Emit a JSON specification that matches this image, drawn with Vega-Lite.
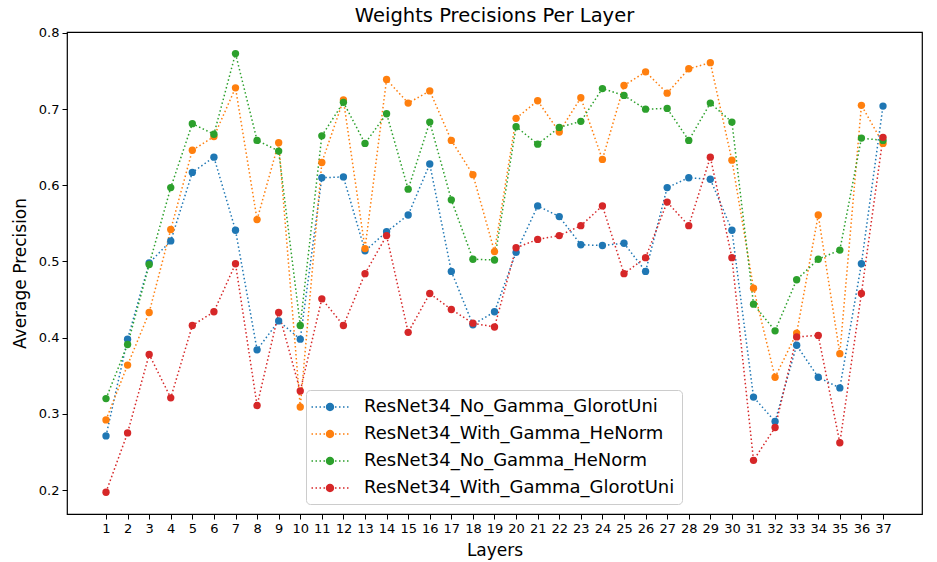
{
  "$schema": "https://vega.github.io/schema/vega-lite/v6.json",
  "width": 855,
  "height": 482,
  "autosize": {"type": "none"},
  "padding": {"left": 67, "top": 32, "right": 15, "bottom": 48},
  "background": "white",
  "config": {
    "font": "DejaVu Sans",
    "view": {"stroke": "black", "strokeWidth": 1.2},
    "axis": {"grid": false, "domain": false, "tickColor": "black", "tickSize": 5, "labelColor": "black", "labelFontSize": 13, "labelFont": "DejaVu Sans", "titleFont": "DejaVu Sans", "titleFontWeight": "normal", "titleFontSize": 17, "titleColor": "black", "labelPadding": 3}
  },
  "title": {"text": "Weights Precisions Per Layer", "fontSize": 19.5, "fontWeight": "normal", "font": "DejaVu Sans", "offset": 0, "color": "black"},
  "data": {"values": [
    {"m":"ResNet34_No_Gamma_GlorotUni","layer":1,"v":0.271},{"m":"ResNet34_No_Gamma_GlorotUni","layer":2,"v":0.398},{"m":"ResNet34_No_Gamma_GlorotUni","layer":3,"v":0.498},{"m":"ResNet34_No_Gamma_GlorotUni","layer":4,"v":0.527},{"m":"ResNet34_No_Gamma_GlorotUni","layer":5,"v":0.617},{"m":"ResNet34_No_Gamma_GlorotUni","layer":6,"v":0.637},{"m":"ResNet34_No_Gamma_GlorotUni","layer":7,"v":0.541},{"m":"ResNet34_No_Gamma_GlorotUni","layer":8,"v":0.384},{"m":"ResNet34_No_Gamma_GlorotUni","layer":9,"v":0.422},{"m":"ResNet34_No_Gamma_GlorotUni","layer":10,"v":0.398},{"m":"ResNet34_No_Gamma_GlorotUni","layer":11,"v":0.610},{"m":"ResNet34_No_Gamma_GlorotUni","layer":12,"v":0.611},{"m":"ResNet34_No_Gamma_GlorotUni","layer":13,"v":0.514},{"m":"ResNet34_No_Gamma_GlorotUni","layer":14,"v":0.539},{"m":"ResNet34_No_Gamma_GlorotUni","layer":15,"v":0.561},{"m":"ResNet34_No_Gamma_GlorotUni","layer":16,"v":0.628},{"m":"ResNet34_No_Gamma_GlorotUni","layer":17,"v":0.487},{"m":"ResNet34_No_Gamma_GlorotUni","layer":18,"v":0.417},{"m":"ResNet34_No_Gamma_GlorotUni","layer":19,"v":0.434},{"m":"ResNet34_No_Gamma_GlorotUni","layer":20,"v":0.512},{"m":"ResNet34_No_Gamma_GlorotUni","layer":21,"v":0.573},{"m":"ResNet34_No_Gamma_GlorotUni","layer":22,"v":0.559},{"m":"ResNet34_No_Gamma_GlorotUni","layer":23,"v":0.522},{"m":"ResNet34_No_Gamma_GlorotUni","layer":24,"v":0.521},{"m":"ResNet34_No_Gamma_GlorotUni","layer":25,"v":0.524},{"m":"ResNet34_No_Gamma_GlorotUni","layer":26,"v":0.487},{"m":"ResNet34_No_Gamma_GlorotUni","layer":27,"v":0.597},{"m":"ResNet34_No_Gamma_GlorotUni","layer":28,"v":0.610},{"m":"ResNet34_No_Gamma_GlorotUni","layer":29,"v":0.608},{"m":"ResNet34_No_Gamma_GlorotUni","layer":30,"v":0.541},{"m":"ResNet34_No_Gamma_GlorotUni","layer":31,"v":0.322},{"m":"ResNet34_No_Gamma_GlorotUni","layer":32,"v":0.290},{"m":"ResNet34_No_Gamma_GlorotUni","layer":33,"v":0.390},{"m":"ResNet34_No_Gamma_GlorotUni","layer":34,"v":0.348},{"m":"ResNet34_No_Gamma_GlorotUni","layer":35,"v":0.334},{"m":"ResNet34_No_Gamma_GlorotUni","layer":36,"v":0.497},{"m":"ResNet34_No_Gamma_GlorotUni","layer":37,"v":0.704},
    {"m":"ResNet34_With_Gamma_HeNorm","layer":1,"v":0.292},{"m":"ResNet34_With_Gamma_HeNorm","layer":2,"v":0.364},{"m":"ResNet34_With_Gamma_HeNorm","layer":3,"v":0.433},{"m":"ResNet34_With_Gamma_HeNorm","layer":4,"v":0.542},{"m":"ResNet34_With_Gamma_HeNorm","layer":5,"v":0.646},{"m":"ResNet34_With_Gamma_HeNorm","layer":6,"v":0.664},{"m":"ResNet34_With_Gamma_HeNorm","layer":7,"v":0.728},{"m":"ResNet34_With_Gamma_HeNorm","layer":8,"v":0.555},{"m":"ResNet34_With_Gamma_HeNorm","layer":9,"v":0.656},{"m":"ResNet34_With_Gamma_HeNorm","layer":10,"v":0.309},{"m":"ResNet34_With_Gamma_HeNorm","layer":11,"v":0.630},{"m":"ResNet34_With_Gamma_HeNorm","layer":12,"v":0.712},{"m":"ResNet34_With_Gamma_HeNorm","layer":13,"v":0.517},{"m":"ResNet34_With_Gamma_HeNorm","layer":14,"v":0.739},{"m":"ResNet34_With_Gamma_HeNorm","layer":15,"v":0.708},{"m":"ResNet34_With_Gamma_HeNorm","layer":16,"v":0.724},{"m":"ResNet34_With_Gamma_HeNorm","layer":17,"v":0.659},{"m":"ResNet34_With_Gamma_HeNorm","layer":18,"v":0.614},{"m":"ResNet34_With_Gamma_HeNorm","layer":19,"v":0.513},{"m":"ResNet34_With_Gamma_HeNorm","layer":20,"v":0.688},{"m":"ResNet34_With_Gamma_HeNorm","layer":21,"v":0.711},{"m":"ResNet34_With_Gamma_HeNorm","layer":22,"v":0.670},{"m":"ResNet34_With_Gamma_HeNorm","layer":23,"v":0.715},{"m":"ResNet34_With_Gamma_HeNorm","layer":24,"v":0.634},{"m":"ResNet34_With_Gamma_HeNorm","layer":25,"v":0.731},{"m":"ResNet34_With_Gamma_HeNorm","layer":26,"v":0.749},{"m":"ResNet34_With_Gamma_HeNorm","layer":27,"v":0.721},{"m":"ResNet34_With_Gamma_HeNorm","layer":28,"v":0.753},{"m":"ResNet34_With_Gamma_HeNorm","layer":29,"v":0.761},{"m":"ResNet34_With_Gamma_HeNorm","layer":30,"v":0.633},{"m":"ResNet34_With_Gamma_HeNorm","layer":31,"v":0.465},{"m":"ResNet34_With_Gamma_HeNorm","layer":32,"v":0.348},{"m":"ResNet34_With_Gamma_HeNorm","layer":33,"v":0.406},{"m":"ResNet34_With_Gamma_HeNorm","layer":34,"v":0.561},{"m":"ResNet34_With_Gamma_HeNorm","layer":35,"v":0.379},{"m":"ResNet34_With_Gamma_HeNorm","layer":36,"v":0.705},{"m":"ResNet34_With_Gamma_HeNorm","layer":37,"v":0.655},
    {"m":"ResNet34_No_Gamma_HeNorm","layer":1,"v":0.320},{"m":"ResNet34_No_Gamma_HeNorm","layer":2,"v":0.391},{"m":"ResNet34_No_Gamma_HeNorm","layer":3,"v":0.496},{"m":"ResNet34_No_Gamma_HeNorm","layer":4,"v":0.597},{"m":"ResNet34_No_Gamma_HeNorm","layer":5,"v":0.681},{"m":"ResNet34_No_Gamma_HeNorm","layer":6,"v":0.667},{"m":"ResNet34_No_Gamma_HeNorm","layer":7,"v":0.773},{"m":"ResNet34_No_Gamma_HeNorm","layer":8,"v":0.659},{"m":"ResNet34_No_Gamma_HeNorm","layer":9,"v":0.645},{"m":"ResNet34_No_Gamma_HeNorm","layer":10,"v":0.416},{"m":"ResNet34_No_Gamma_HeNorm","layer":11,"v":0.665},{"m":"ResNet34_No_Gamma_HeNorm","layer":12,"v":0.709},{"m":"ResNet34_No_Gamma_HeNorm","layer":13,"v":0.655},{"m":"ResNet34_No_Gamma_HeNorm","layer":14,"v":0.694},{"m":"ResNet34_No_Gamma_HeNorm","layer":15,"v":0.595},{"m":"ResNet34_No_Gamma_HeNorm","layer":16,"v":0.683},{"m":"ResNet34_No_Gamma_HeNorm","layer":17,"v":0.581},{"m":"ResNet34_No_Gamma_HeNorm","layer":18,"v":0.503},{"m":"ResNet34_No_Gamma_HeNorm","layer":19,"v":0.502},{"m":"ResNet34_No_Gamma_HeNorm","layer":20,"v":0.677},{"m":"ResNet34_No_Gamma_HeNorm","layer":21,"v":0.654},{"m":"ResNet34_No_Gamma_HeNorm","layer":22,"v":0.676},{"m":"ResNet34_No_Gamma_HeNorm","layer":23,"v":0.684},{"m":"ResNet34_No_Gamma_HeNorm","layer":24,"v":0.727},{"m":"ResNet34_No_Gamma_HeNorm","layer":25,"v":0.718},{"m":"ResNet34_No_Gamma_HeNorm","layer":26,"v":0.700},{"m":"ResNet34_No_Gamma_HeNorm","layer":27,"v":0.701},{"m":"ResNet34_No_Gamma_HeNorm","layer":28,"v":0.659},{"m":"ResNet34_No_Gamma_HeNorm","layer":29,"v":0.708},{"m":"ResNet34_No_Gamma_HeNorm","layer":30,"v":0.683},{"m":"ResNet34_No_Gamma_HeNorm","layer":31,"v":0.444},{"m":"ResNet34_No_Gamma_HeNorm","layer":32,"v":0.409},{"m":"ResNet34_No_Gamma_HeNorm","layer":33,"v":0.476},{"m":"ResNet34_No_Gamma_HeNorm","layer":34,"v":0.503},{"m":"ResNet34_No_Gamma_HeNorm","layer":35,"v":0.515},{"m":"ResNet34_No_Gamma_HeNorm","layer":36,"v":0.662},{"m":"ResNet34_No_Gamma_HeNorm","layer":37,"v":0.659},
    {"m":"ResNet34_With_Gamma_GlorotUni","layer":1,"v":0.197},{"m":"ResNet34_With_Gamma_GlorotUni","layer":2,"v":0.275},{"m":"ResNet34_With_Gamma_GlorotUni","layer":3,"v":0.378},{"m":"ResNet34_With_Gamma_GlorotUni","layer":4,"v":0.321},{"m":"ResNet34_With_Gamma_GlorotUni","layer":5,"v":0.416},{"m":"ResNet34_With_Gamma_GlorotUni","layer":6,"v":0.434},{"m":"ResNet34_With_Gamma_GlorotUni","layer":7,"v":0.497},{"m":"ResNet34_With_Gamma_GlorotUni","layer":8,"v":0.311},{"m":"ResNet34_With_Gamma_GlorotUni","layer":9,"v":0.433},{"m":"ResNet34_With_Gamma_GlorotUni","layer":10,"v":0.330},{"m":"ResNet34_With_Gamma_GlorotUni","layer":11,"v":0.451},{"m":"ResNet34_With_Gamma_GlorotUni","layer":12,"v":0.416},{"m":"ResNet34_With_Gamma_GlorotUni","layer":13,"v":0.484},{"m":"ResNet34_With_Gamma_GlorotUni","layer":14,"v":0.534},{"m":"ResNet34_With_Gamma_GlorotUni","layer":15,"v":0.407},{"m":"ResNet34_With_Gamma_GlorotUni","layer":16,"v":0.458},{"m":"ResNet34_With_Gamma_GlorotUni","layer":17,"v":0.437},{"m":"ResNet34_With_Gamma_GlorotUni","layer":18,"v":0.419},{"m":"ResNet34_With_Gamma_GlorotUni","layer":19,"v":0.414},{"m":"ResNet34_With_Gamma_GlorotUni","layer":20,"v":0.518},{"m":"ResNet34_With_Gamma_GlorotUni","layer":21,"v":0.529},{"m":"ResNet34_With_Gamma_GlorotUni","layer":22,"v":0.534},{"m":"ResNet34_With_Gamma_GlorotUni","layer":23,"v":0.547},{"m":"ResNet34_With_Gamma_GlorotUni","layer":24,"v":0.573},{"m":"ResNet34_With_Gamma_GlorotUni","layer":25,"v":0.484},{"m":"ResNet34_With_Gamma_GlorotUni","layer":26,"v":0.505},{"m":"ResNet34_With_Gamma_GlorotUni","layer":27,"v":0.578},{"m":"ResNet34_With_Gamma_GlorotUni","layer":28,"v":0.547},{"m":"ResNet34_With_Gamma_GlorotUni","layer":29,"v":0.637},{"m":"ResNet34_With_Gamma_GlorotUni","layer":30,"v":0.505},{"m":"ResNet34_With_Gamma_GlorotUni","layer":31,"v":0.239},{"m":"ResNet34_With_Gamma_GlorotUni","layer":32,"v":0.282},{"m":"ResNet34_With_Gamma_GlorotUni","layer":33,"v":0.401},{"m":"ResNet34_With_Gamma_GlorotUni","layer":34,"v":0.403},{"m":"ResNet34_With_Gamma_GlorotUni","layer":35,"v":0.262},{"m":"ResNet34_With_Gamma_GlorotUni","layer":36,"v":0.458},{"m":"ResNet34_With_Gamma_GlorotUni","layer":37,"v":0.663}
  ]},
  "encoding": {
    "x": {"field": "layer", "type": "quantitative", "scale": {"domain": [-0.807, 38.807], "nice": false, "zero": false}, "axis": {"values": [1,2,3,4,5,6,7,8,9,10,11,12,13,14,15,16,17,18,19,20,21,22,23,24,25,26,27,28,29,30,31,32,33,34,35,36,37], "title": "Layers", "titlePadding": 7, "labelFlush": false}},
    "y": {"field": "v", "type": "quantitative", "scale": {"domain": [0.1685, 0.8013], "nice": false, "zero": false}, "axis": {"values": [0.2,0.3,0.4,0.5,0.6,0.7,0.8], "format": ".1f", "title": "Average Precision", "titlePadding": 9, "labelFlush": false}},
    "color": {"field": "m", "type": "nominal", "sort": null,
      "scale": {"domain": ["ResNet34_No_Gamma_GlorotUni","ResNet34_With_Gamma_HeNorm","ResNet34_No_Gamma_HeNorm","ResNet34_With_Gamma_GlorotUni"], "range": ["#1f77b4","#ff7f0e","#2ca02c","#d62728"]},
      "legend": {"title": null, "orient": "none", "legendX": 239, "legendY": 358, "labelFontSize": 18, "labelFont": "DejaVu Sans", "labelColor": "black", "labelLimit": 500, "padding": 7, "strokeColor": "#cccccc", "fillColor": "rgba(255,255,255,0.8)", "cornerRadius": 4, "symbolSize": 400, "symbolOffset": 7, "labelOffset": 24, "rowPadding": 8,
        "symbolType": "M0.42,0A0.42,0.42 0 1,1 -0.42,0A0.42,0.42 0 1,1 0.42,0Z M-1.85,-0.075h0.15v0.15h-0.15Z M-1.45,-0.075h0.15v0.15h-0.15Z M-1.05,-0.075h0.15v0.15h-0.15Z M-0.65,-0.075h0.15v0.15h-0.15Z M0.5,-0.075h0.15v0.15h-0.15Z M0.9,-0.075h0.15v0.15h-0.15Z M1.3,-0.075h0.15v0.15h-0.15Z M1.7,-0.075h0.15v0.15h-0.15Z",
        "encode": {"symbols": {"update": {"fill": {"scale": "color", "field": "value"}, "stroke": {"value": "transparent"}, "strokeWidth": {"value": 0}, "opacity": {"value": 1}}}}}
    }
  },
  "layer": [
    {"mark": {"type": "line", "strokeDash": [1.5, 2.5], "strokeWidth": 1.5, "clip": true}, "encoding": {"detail": {"field": "m"}}},
    {"mark": {"type": "circle", "size": 54, "opacity": 1, "clip": true}}
  ]
}
